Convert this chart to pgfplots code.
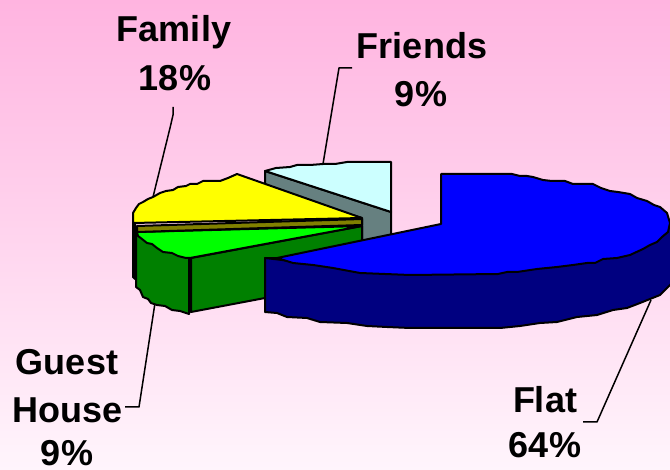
\documentclass[border=0pt]{standalone}
\usepackage{pgfplots}
\pgfplotsset{compat=1.18}
\usepackage{fontspec}
\setmainfont{Liberation Sans}
\definecolor{bgtop}{RGB}{255,180,224}
\definecolor{bgmid}{RGB}{255,224,242}
\definecolor{bgbot}{RGB}{255,245,252}
\definecolor{flattop}{RGB}{0,0,255}
\definecolor{flatside}{RGB}{0,0,128}
\definecolor{guesttop}{RGB}{0,255,0}
\definecolor{guestside}{RGB}{0,128,0}
\definecolor{famtop}{RGB}{255,255,0}
\definecolor{famside}{RGB}{128,128,0}
\definecolor{fritop}{RGB}{204,255,255}
\definecolor{friside}{RGB}{102,128,128}
\tikzset{lbl/.style={font=\fontsize{36}{40}\selectfont\bfseries, anchor=base, inner sep=0pt, text=black}}
\begin{document}
\begin{tikzpicture}
\begin{axis}[
  scale only axis, width=670pt, height=470pt,
  xmin=0, xmax=670, ymin=0, ymax=470, y dir=reverse,
  xtick=\empty, ytick=\empty, axis line style={draw=none},
  axis background/.style={shade, top color=bgtop, middle color=bgmid, bottom color=bgbot},
  clip=true,
  every axis plot/.append style={line width=2pt, line join=round, draw=black, mark=none},
]
% leader lines
\addplot[line width=1.5pt] coordinates {(173,107) (173,115) (170,128) (153,197)};
\addplot[line width=1.5pt] coordinates {(352,68) (339,68) (323,164)};
\addplot[line width=1.5pt] coordinates {(155,303) (139,407) (125,407)};
\addplot[line width=1.5pt] coordinates {(651,300) (597,422) (583,422)};
% Friends
\addplot[fill=friside] coordinates {(265,171) (391,212) (391,238) (362,244) (362,218) (265,190)} --cycle;
\addplot[fill=fritop] coordinates {(265,171) (276,168) (290,167) (297,165) (310,165) (323,164) (335,164) (347,162) (391,162) (391,212)} --cycle;
% Family side sliver
\addplot[fill=black] coordinates {(133,223) (133,277) (135,279) (135,223)} --cycle;
% Guest House
\addplot[fill=guestside] coordinates {(191,258) (362,226) (362,280) (265,298) (191,312)} --cycle;
\addplot[fill=guestside] coordinates {(136,233) (136,287) (140,290) (143,297) (148,299) (151,303) (157,305) (165,306) (172,310) (180,311) (189,314) (189,258)} --cycle;
\addplot[fill=guesttop] coordinates {(137,232) (138,236) (142,239) (147,243) (152,244) (157,248) (163,252) (172,253) (178,256) (186,258) (190,258) (362,226)} --cycle;
% Family
\addplot[fill=famside] coordinates {(137,226) (362,219) (362,225) (137,232)} --cycle;
\addplot[fill=famtop] coordinates {(133,223) (133,213) (136,208) (139,204) (143,202) (148,199) (153,197) (160,193) (166,191) (173,190) (178,187) (186,186) (190,184) (197,184) (203,181) (220,181) (228,178) (237,174) (362,218)} --cycle;
% Flat
\addplot[fill=flatside] coordinates {(265,258) (265,312) (277,313) (287,317) (307,318) (320,322) (347,323) (367,326) (387,327) (410,328) (500,328) (520,326) (540,323) (557,322) (577,317) (597,315) (613,310) (627,308) (640,303) (650,299) (660,295) (667,288) (672,283) (672,223) (600,240) (400,274)} --cycle;
\addplot[fill=flattop] coordinates {(441,224) (441,174) (512,174) (520,176) (527,176) (533,177) (543,180) (552,181) (565,181) (573,184) (593,184) (601,188) (610,191) (618,192) (630,194) (637,198) (647,201) (654,205) (660,207) (667,213) (670,223) (668,232) (662,237) (657,242) (650,245) (643,249) (630,255) (617,258) (603,259) (595,263) (587,263) (573,265) (557,267) (537,269) (517,272) (507,272) (498,274) (410,275) (360,273) (333,268) (313,265) (293,263) (277,258)} --cycle;
\addplot[line width=2pt] coordinates {(265,258) (277,258)};
% labels
\node[lbl] at (axis cs:174,42) {Family};
\node[lbl] at (axis cs:175,91) {18\%};
\node[lbl] at (axis cs:422,59) {Friends};
\node[lbl] at (axis cs:421,107) {9\%};
\node[lbl] at (axis cs:67,375) {Guest};
\node[lbl] at (axis cs:68,423) {House};
\node[lbl] at (axis cs:67,465) {9\%};
\node[lbl] at (axis cs:545,413) {Flat};
\node[lbl] at (axis cs:545,458) {64\%};
\end{axis}
\end{tikzpicture}
\end{document}
